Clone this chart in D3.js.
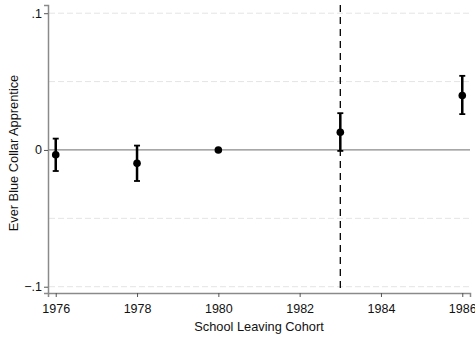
<!DOCTYPE html>
<html>
<head>
<meta charset="utf-8">
<script src="https://cdn.jsdelivr.net/npm/d3@7"></script>
<style>
  body { margin: 0; background: white; }
  text { font-family: "Liberation Sans", Arial, sans-serif; }
</style>
</head>
<body>
<script>
// cohort estimates with 95% CI
var years = [1976, 1978, 1980, 1983, 1986];
var estimates = [-0.0035, -0.0098, 0, 0.013, 0.0398];
var ciLow = [-0.0154, -0.0227, null, -0.0007, 0.0262];
var ciHigh = [0.0083, 0.0032, null, 0.0269, 0.0542];
var xTicks = [1976, 1978, 1980, 1982, 1984, 1986];
var yTicks = [-0.1, 0, 0.1];
var yGrid = [-0.1, -0.05, 0.05, 0.1];
var cutoffYear = 1983;

var width = 475, height = 339;
var svg = d3.select("body").append("svg")
   .attr("width", width)
   .attr("height", height);

svg.append("rect").attr("width", "100%").attr("height", "100%").style("fill", "white");

var x = d3.scaleLinear().domain([1975.81, 1986.19]).range([48, 470]);
var y = d3.scaleLinear().domain([-0.1046, 0.106]).range([293, 5]);

// grid lines
svg.selectAll(".grid")
   .data(yGrid)
   .enter().append("line")
   .attr("x1", 49).attr("x2", 470)
   .attr("y1", function (d) { return y(d); })
   .attr("y2", function (d) { return y(d); })
   .style("stroke", "#e4e4e4")
   .style("stroke-width", 1)
   .style("stroke-dasharray", "6,3");

// zero line
svg.append("line")
   .attr("x1", 49).attr("x2", 470)
   .attr("y1", y(0)).attr("y2", y(0))
   .style("stroke", "#8a8a8a")
   .style("stroke-width", 1.2);

// cutoff line
svg.append("line")
   .attr("x1", x(cutoffYear)).attr("x2", x(cutoffYear))
   .attr("y1", 5).attr("y2", 293)
   .style("stroke", "black")
   .style("stroke-width", 1.3)
   .style("stroke-dasharray", "7,5");

// axes
var yAxis = svg.append("g")
   .attr("transform", "translate(48,0)")
   .call(d3.axisLeft(y).tickValues(yTicks).tickSize(4)
      .tickFormat(function (d) { return d === 0 ? "0" : d3.format(".1f")(d).replace("0.", "."); }));
var xAxis = svg.append("g")
   .attr("transform", "translate(0,293)")
   .call(d3.axisBottom(x).tickValues(xTicks).tickSize(4).tickFormat(d3.format("d")));

[yAxis, xAxis].forEach(function (g) {
   g.select(".domain").style("stroke", "#8a8a8a").style("stroke-width", 1.5);
   g.selectAll(".tick line").style("stroke", "#555");
   g.selectAll(".tick text").style("font-size", "12.5px").style("fill", "#111")
      .style("font-family", "'Liberation Sans', Arial, sans-serif");
});
xAxis.selectAll(".tick text").attr("dy", "1.05em");
yAxis.selectAll(".tick text").attr("x", -6);

// error bars
var idx = d3.range(years.length).filter(function (i) { return ciLow[i] !== null; });
var bars = svg.selectAll(".ci").data(idx).enter().append("g");
bars.append("line")
   .attr("x1", function (i) { return x(years[i]); })
   .attr("x2", function (i) { return x(years[i]); })
   .attr("y1", function (i) { return y(ciLow[i]); })
   .attr("y2", function (i) { return y(ciHigh[i]); })
   .style("stroke", "black").style("stroke-width", 2.5);
bars.append("line")
   .attr("x1", function (i) { return x(years[i]) - 3; })
   .attr("x2", function (i) { return x(years[i]) + 3; })
   .attr("y1", function (i) { return y(ciLow[i]); })
   .attr("y2", function (i) { return y(ciLow[i]); })
   .style("stroke", "black").style("stroke-width", 1.8);
bars.append("line")
   .attr("x1", function (i) { return x(years[i]) - 3; })
   .attr("x2", function (i) { return x(years[i]) + 3; })
   .attr("y1", function (i) { return y(ciHigh[i]); })
   .attr("y2", function (i) { return y(ciHigh[i]); })
   .style("stroke", "black").style("stroke-width", 1.8);

// points
svg.selectAll(".pt").data(years).enter().append("circle")
   .attr("cx", function (d) { return x(d); })
   .attr("cy", function (d, i) { return y(estimates[i]); })
   .attr("r", 3.8)
   .style("fill", "black");

// axis titles
svg.append("text")
   .attr("x", 259).attr("y", 331)
   .attr("text-anchor", "middle")
   .style("font-size", "12.8px").style("fill", "#111")
   .text("School Leaving Cohort");
svg.append("text")
   .attr("transform", "translate(18,153) rotate(-90)")
   .attr("text-anchor", "middle")
   .style("font-size", "12.8px").style("fill", "#111")
   .text("Ever Blue Collar Apprentice");
</script>
</body>
</html>
